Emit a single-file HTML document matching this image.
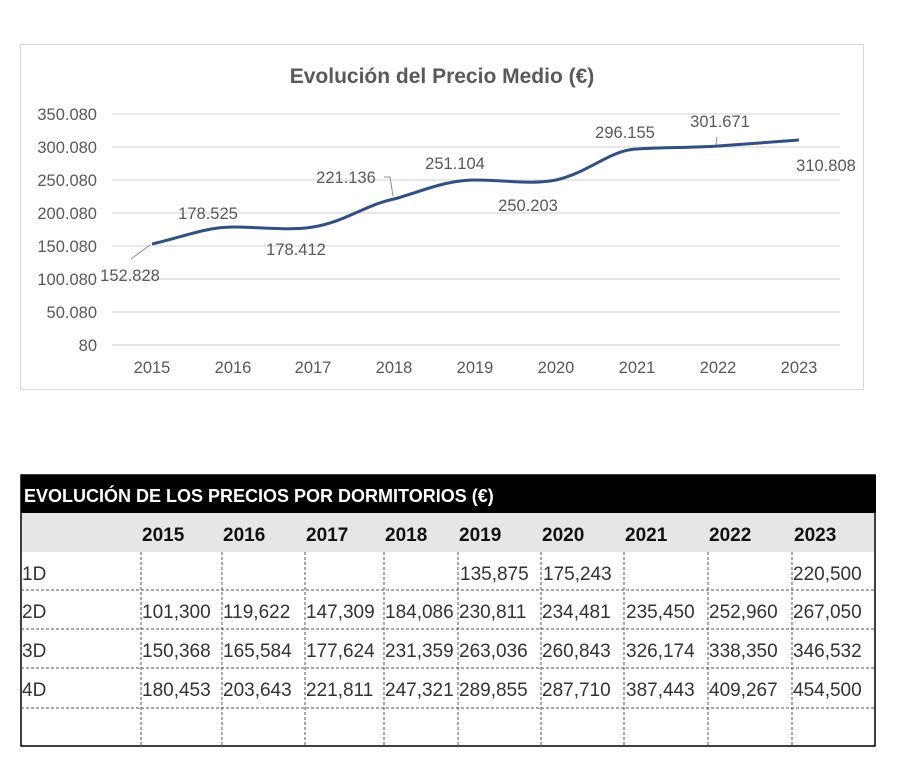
<!DOCTYPE html>
<html><head><meta charset="utf-8"><style>
html,body{margin:0;padding:0;background:#fff;}
svg{display:block;font-family:"Liberation Sans",sans-serif;}
</style></head><body>
<svg width="906" height="768" viewBox="0 0 906 768">
<rect x="20.5" y="44.5" width="843" height="345" fill="#fff" stroke="#d9d9d9"/>
<text x="442" y="83" text-anchor="middle" font-size="21" font-weight="bold" fill="#595959">Evolución del Precio Medio (€)</text>
<g stroke="#d9d9d9" stroke-width="1.2">
<line x1="112" x2="840" y1="114" y2="114"/><line x1="112" x2="840" y1="147" y2="147"/>
<line x1="112" x2="840" y1="180" y2="180"/><line x1="112" x2="840" y1="213" y2="213"/>
<line x1="112" x2="840" y1="246" y2="246"/><line x1="112" x2="840" y1="279" y2="279"/>
<line x1="112" x2="840" y1="312" y2="312"/><line x1="112" x2="840" y1="345" y2="345"/>
</g>
<g font-size="16.5" fill="#595959" text-anchor="end">
<text x="97" y="120">350.080</text><text x="97" y="153">300.080</text><text x="97" y="186">250.080</text>
<text x="97" y="219">200.080</text><text x="97" y="252">150.080</text><text x="97" y="285">100.080</text>
<text x="97" y="318">50.080</text><text x="97" y="351">80</text>
</g>
<g font-size="16.5" fill="#595959" text-anchor="middle">
<text x="152" y="373">2015</text><text x="233" y="373">2016</text><text x="313" y="373">2017</text>
<text x="394" y="373">2018</text><text x="475" y="373">2019</text><text x="556" y="373">2020</text>
<text x="637" y="373">2021</text><text x="718" y="373">2022</text><text x="799" y="373">2023</text>
</g>
<path d="M152,244 C180,238 205,227 233,227 C260,227 290,231 313,227 C345,222 365,205 394,199 C420,192 445,180 475,180 C505,180 530,185 556,180 C590,172 610,150 637,149 C665,147 690,148 718,146 C745,144 775,142 799,140" fill="none" stroke="#2f5085" stroke-width="3"/>
<g stroke="#8c8c8c" stroke-width="1" fill="none">
<line x1="131" y1="259" x2="150" y2="245"/>
<polyline points="384,177 390,177 393,196"/>
<line x1="717" y1="137" x2="716" y2="145"/>
</g>
<g font-size="16.5" fill="#595959" text-anchor="middle">
<text x="130" y="281">152.828</text><text x="208" y="219">178.525</text><text x="296" y="255">178.412</text>
<text x="346" y="183">221.136</text><text x="455" y="169">251.104</text><text x="528" y="211">250.203</text>
<text x="625" y="138">296.155</text><text x="720" y="127">301.671</text><text x="826" y="171">310.808</text>
</g>
<!-- table -->
<rect x="21" y="475" width="855" height="38" fill="#000"/>
<text x="24" y="502" font-size="18" font-weight="bold" fill="#fff">EVOLUCIÓN DE LOS PRECIOS POR DORMITORIOS (€)</text>
<rect x="21" y="513" width="853" height="39" fill="#e6e6e6"/>
<rect x="21" y="475" width="854" height="271" fill="none" stroke="#000" stroke-width="1.5"/>
<g stroke="#555" stroke-width="1" stroke-dasharray="3,2">
<line x1="21" x2="875" y1="590" y2="590"/><line x1="21" x2="875" y1="629" y2="629"/>
<line x1="21" x2="875" y1="668" y2="668"/><line x1="21" x2="875" y1="708" y2="708"/>
<line x1="141" x2="141" y1="552" y2="746"/><line x1="222" x2="222" y1="552" y2="746"/>
<line x1="305" x2="305" y1="552" y2="746"/><line x1="384" x2="384" y1="552" y2="746"/>
<line x1="458" x2="458" y1="552" y2="746"/><line x1="541" x2="541" y1="552" y2="746"/>
<line x1="624" x2="624" y1="552" y2="746"/><line x1="708" x2="708" y1="552" y2="746"/>
<line x1="792" x2="792" y1="552" y2="746"/>
</g>
<g font-size="19" font-weight="bold" fill="#111">
<text x="142" y="541">2015</text><text x="223" y="541">2016</text><text x="306" y="541">2017</text>
<text x="385" y="541">2018</text><text x="459" y="541">2019</text><text x="542" y="541">2020</text>
<text x="625" y="541">2021</text><text x="709" y="541">2022</text><text x="794" y="541">2023</text>
</g>
<g font-size="19" fill="#333">
<text x="22" y="580">1D</text><text x="22" y="618">2D</text><text x="22" y="657">3D</text><text x="22" y="696">4D</text>
<text x="460" y="580">135,875</text><text x="543" y="580">175,243</text><text x="793" y="580">220,500</text>
<text x="142" y="618">101,300</text><text x="223" y="618">119,622</text><text x="306" y="618">147,309</text><text x="385" y="618">184,086</text><text x="459" y="618">230,811</text><text x="542" y="618">234,481</text><text x="626" y="618">235,450</text><text x="709" y="618">252,960</text><text x="793" y="618">267,050</text>
<text x="142" y="657">150,368</text><text x="223" y="657">165,584</text><text x="306" y="657">177,624</text><text x="385" y="657">231,359</text><text x="459" y="657">263,036</text><text x="542" y="657">260,843</text><text x="626" y="657">326,174</text><text x="709" y="657">338,350</text><text x="793" y="657">346,532</text>
<text x="142" y="696">180,453</text><text x="223" y="696">203,643</text><text x="306" y="696">221,811</text><text x="385" y="696">247,321</text><text x="459" y="696">289,855</text><text x="542" y="696">287,710</text><text x="626" y="696">387,443</text><text x="709" y="696">409,267</text><text x="793" y="696">454,500</text>
</g>
</svg>
</body></html>
